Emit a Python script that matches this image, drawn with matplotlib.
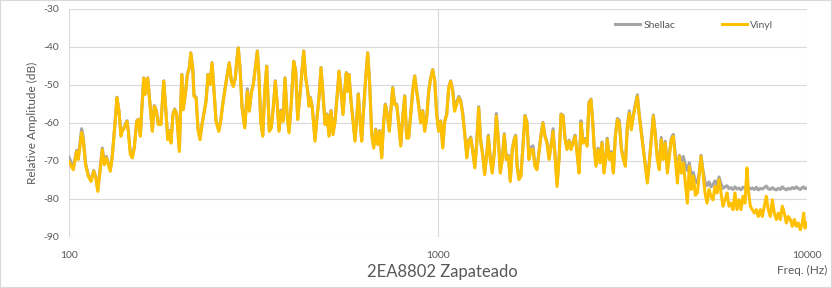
import matplotlib
matplotlib.use("Agg")
import matplotlib.pyplot as plt
from matplotlib.patches import Rectangle
from matplotlib.ticker import NullLocator

# Frequency response
freq_hz = [
    100.0, 102.7, 104.9, 106.0, 108.2, 109.3, 110.9, 112.8, 114.7, 116.7,
    118.2, 119.7, 121.4, 123.1, 124.7, 126.3, 127.9, 129.4, 131.0, 133.2,
    134.9, 136.6, 138.3, 139.4, 141.2, 143.6, 144.8, 146.6, 148.5, 150.3,
    152.6, 154.1, 156.1, 157.4, 159.4, 160.7, 162.0, 163.4, 166.1, 168.2,
    170.3, 172.4, 174.6, 177.5, 180.6, 182.8, 185.2, 187.4, 189.0, 191.3,
    193.4, 195.8, 199.1, 202.1, 204.1, 206.7, 209.3, 211.9, 213.8, 216.4,
    218.2, 221.0, 223.7, 226.5, 229.4, 232.2, 235.2, 238.1, 241.1, 244.1,
    247.2, 250.3, 254.6, 257.7, 261.0, 264.2, 267.5, 271.9, 275.3, 278.8,
    282.3, 284.8, 287.6, 290.7, 294.4, 299.4, 304.3, 308.1, 312.0, 315.9,
    319.8, 323.9, 326.7, 330.8, 335.0, 339.2, 343.4, 349.0, 353.4, 357.8,
    362.3, 366.1, 370.8, 375.5, 380.2, 385.0, 389.8, 394.6, 399.6, 406.4,
    411.5, 416.6, 422.0, 427.2, 432.6, 438.0, 443.5, 447.1, 450.8, 456.4,
    464.2, 470.0, 475.9, 481.9, 487.9, 494.1, 500.3, 506.6, 513.0, 519.4,
    526.0, 532.5, 539.2, 546.0, 552.8, 559.8, 564.3, 569.3, 573.9, 581.1,
    588.4, 595.8, 603.3, 608.2, 615.8, 621.2, 629.0, 636.9, 644.9, 653.0,
    661.2, 669.5, 677.9, 686.4, 695.0, 703.8, 712.6, 719.8, 728.8, 738.0,
    747.3, 753.8, 763.3, 772.8, 782.6, 792.4, 802.3, 812.4, 822.6, 832.9,
    843.4, 854.0, 864.7, 875.6, 886.6, 897.7, 909.0, 920.4, 931.9, 943.6,
    955.5, 967.5, 979.6, 991.9, 1004, 1017, 1030, 1043, 1056, 1069,
    1082, 1096, 1109, 1123, 1138, 1152, 1167, 1182, 1197, 1211,
    1227, 1242, 1258, 1273, 1289, 1305, 1321, 1338, 1357, 1369,
    1386, 1403, 1421, 1439, 1457, 1475, 1494, 1512, 1531, 1551,
    1570, 1590, 1610, 1624, 1638, 1657, 1678, 1699, 1721, 1742,
    1764, 1786, 1809, 1831, 1854, 1878, 1901, 1925, 1949, 1974,
    2000, 2025, 2050, 2076, 2102, 2128, 2155, 2182, 2210, 2237,
    2265, 2294, 2322, 2352, 2381, 2411, 2441, 2472, 2503, 2535,
    2566, 2598, 2631, 2647, 2681, 2714, 2748, 2783, 2818, 2853,
    2876, 2913, 2949, 2987, 3025, 3063, 3100, 3140, 3179, 3219,
    3260, 3300, 3341, 3384, 3427, 3470, 3512, 3556, 3601, 3646,
    3693, 3738, 3785, 3833, 3882, 3931, 3978, 4028, 4079, 4131,
    4184, 4235, 4288, 4343, 4398, 4454, 4508, 4564, 4622, 4681,
    4740, 4798, 4858, 4920, 4982, 5046, 5098, 5162, 5227, 5292,
    5359, 5426, 5494, 5563, 5633, 5704, 5775, 5848, 5921, 5996,
    6071, 6147, 6223, 6302, 6381, 6461, 6542, 6624, 6707, 6792,
    6877, 6933, 7020, 7108, 7198, 7288, 7380, 7473, 7566, 7661,
    7758, 7855, 7954, 8053, 8154, 8257, 8361, 8466, 8572, 8680,
    8789, 8899, 9011, 9124, 9238, 9355, 9472, 9591, 9711, 9796,
    9877, 10000,
]

vinyl_db = [
    -70.2, -72.3, -67.5, -69.6, -62.5, -64.4, -71.0, -74.0, -75.4, -72.7,
    -74.5, -78.0, -72.7, -67.0, -71.0, -69.2, -71.0, -72.7, -68.8, -60.4,
    -53.4, -56.9, -63.5, -62.2, -61.3, -59.6, -62.2, -68.3, -69.2, -66.6,
    -59.6, -59.1, -63.5, -56.9, -48.2, -52.5, -49.9, -48.2, -56.0, -62.2,
    -55.6, -56.9, -60.4, -60.4, -49.0, -56.0, -64.4, -62.2, -65.3, -57.8,
    -56.5, -57.8, -67.5, -47.3, -56.5, -52.5, -47.3, -45.5, -41.6, -45.5,
    -53.0, -53.4, -61.8, -64.4, -60.4, -57.4, -54.3, -47.3, -49.9, -44.2,
    -51.7, -59.6, -62.2, -59.6, -55.2, -51.7, -48.2, -44.2, -49.0, -50.4,
    -48.2, -43.8, -40.3, -45.5, -56.0, -61.3, -51.7, -56.9, -52.1, -49.9,
    -45.5, -41.1, -46.4, -59.6, -63.5, -51.7, -45.1, -62.2, -61.3, -56.0,
    -49.0, -54.3, -62.2, -56.9, -59.6, -48.2, -57.8, -62.6, -56.0, -43.8,
    -46.4, -59.1, -53.4, -47.3, -41.1, -48.2, -51.7, -55.6, -53.4, -56.0,
    -64.8, -58.7, -53.4, -45.5, -52.5, -60.4, -57.8, -63.5, -56.9, -63.1,
    -59.6, -53.4, -46.4, -51.7, -57.8, -50.8, -46.8, -51.7, -47.3, -54.3,
    -59.6, -64.8, -57.8, -52.5, -60.4, -64.8, -56.0, -48.2, -41.6, -49.9,
    -63.1, -66.6, -61.8, -65.7, -62.2, -69.2, -59.6, -55.2, -57.8, -62.2,
    -55.2, -50.8, -55.2, -55.2, -60.4, -66.1, -58.7, -53.0, -64.0, -64.0,
    -57.8, -51.7, -47.7, -51.7, -55.6, -60.0, -56.9, -62.2, -58.7, -51.7,
    -48.2, -46.0, -49.0, -57.8, -62.2, -59.6, -66.6, -59.6, -57.8, -50.8,
    -49.0, -51.7, -56.9, -55.2, -53.4, -54.3, -57.8, -63.1, -69.2, -64.8,
    -64.0, -67.5, -71.8, -65.7, -56.0, -64.8, -68.3, -73.6, -67.9, -63.5,
    -69.6, -73.2, -67.9, -58.2, -64.4, -73.2, -69.6, -63.1, -69.6, -68.8,
    -75.4, -67.0, -64.4, -63.5, -71.4, -74.9, -74.0, -66.1, -58.2, -60.0,
    -69.6, -67.0, -67.0, -71.4, -72.3, -67.9, -63.5, -60.0, -63.5, -65.3,
    -69.6, -66.1, -62.2, -68.8, -76.7, -69.6, -57.8, -58.2, -64.4, -67.0,
    -64.8, -67.0, -65.3, -63.5, -67.9, -73.2, -60.0, -65.3, -64.4, -66.1,
    -54.7, -53.9, -61.0, -66.1, -71.4, -67.0, -70.5, -65.3, -73.2, -68.8,
    -64.4, -69.6, -67.9, -73.2, -63.5, -59.1, -60.0, -67.0, -69.6, -71.4,
    -60.9, -57.4, -61.8, -58.2, -55.6, -53.0, -58.2, -62.6, -67.0, -71.4,
    -75.8, -70.5, -64.4, -58.2, -63.5, -69.6, -72.3, -64.4, -69.6, -65.3,
    -73.2, -68.8, -64.4, -63.5, -69.6, -75.8, -68.8, -73.2, -70.5, -75.8,
    -81.1, -71.4, -77.5, -74.0, -79.0, -78.4, -74.0, -68.8, -73.2, -78.4,
    -81.1, -77.5, -79.3, -80.2, -76.7, -78.4, -74.9, -78.4, -81.9, -80.2,
    -78.4, -81.9, -81.1, -82.8, -78.4, -82.8, -80.2, -82.8, -79.3, -81.1,
    -71.8, -77.5, -81.9, -82.8, -83.7, -82.8, -84.6, -82.8, -84.6, -81.9,
    -79.3, -82.8, -84.6, -80.2, -83.7, -85.4, -83.7, -85.4, -81.9, -83.7,
    -86.3, -84.6, -85.4, -87.2, -85.4, -87.2, -86.3, -88.1, -86.3, -83.7,
    -87.7, -86.3,
]

shellac_db = [
    -69.0, -71.8, -67.2, -69.0, -61.5, -63.8, -70.6, -73.6, -75.0, -72.5,
    -74.2, -77.6, -72.0, -66.6, -70.5, -68.8, -70.6, -72.3, -68.5, -60.2,
    -53.2, -56.8, -63.0, -62.0, -61.0, -59.4, -62.0, -67.6, -68.8, -66.4,
    -59.4, -59.0, -63.2, -56.8, -48.1, -52.2, -49.8, -48.1, -55.8, -61.8,
    -55.4, -56.6, -60.0, -60.1, -48.9, -55.8, -64.0, -62.0, -65.0, -57.6,
    -56.3, -57.5, -67.0, -47.2, -56.2, -52.3, -47.2, -45.4, -41.5, -45.3,
    -52.8, -53.2, -61.5, -64.0, -60.2, -57.2, -54.1, -47.2, -49.6, -44.1,
    -51.5, -59.3, -61.9, -59.4, -55.0, -51.5, -48.1, -44.1, -48.8, -50.2,
    -48.1, -43.7, -40.2, -45.3, -55.7, -61.0, -51.0, -56.6, -51.9, -49.7,
    -45.4, -41.0, -46.2, -59.3, -63.2, -51.5, -45.0, -61.8, -61.0, -55.8,
    -48.9, -54.0, -61.9, -56.6, -59.3, -48.1, -57.5, -62.3, -55.8, -43.7,
    -46.2, -58.8, -53.2, -47.2, -41.0, -48.1, -51.5, -55.4, -53.2, -55.8,
    -64.2, -58.5, -53.2, -45.4, -52.3, -60.1, -57.6, -63.2, -56.7, -62.5,
    -59.4, -53.2, -46.3, -51.5, -57.5, -50.6, -46.7, -51.5, -47.2, -54.1,
    -59.3, -64.4, -57.6, -52.3, -60.1, -64.5, -55.8, -48.1, -41.5, -49.7,
    -62.8, -66.2, -61.6, -65.3, -62.0, -68.8, -59.4, -55.0, -57.6, -61.9,
    -55.0, -50.6, -55.0, -55.0, -60.1, -65.7, -58.5, -52.8, -63.6, -63.7,
    -57.6, -51.5, -47.6, -51.5, -55.4, -59.7, -56.7, -61.9, -58.5, -51.5,
    -48.1, -45.9, -48.8, -57.5, -61.9, -59.4, -66.2, -59.4, -57.6, -50.7,
    -48.9, -51.2, -56.4, -54.6, -53.0, -54.0, -57.4, -62.8, -68.8, -64.5,
    -63.7, -67.2, -71.4, -65.4, -55.7, -64.4, -68.0, -73.2, -67.6, -63.2,
    -69.2, -72.8, -67.5, -57.5, -64.0, -72.7, -69.2, -62.8, -69.2, -68.5,
    -75.0, -66.7, -64.1, -63.2, -71.0, -74.5, -73.6, -65.8, -58.0, -59.7,
    -69.2, -66.4, -66.0, -71.0, -72.0, -67.5, -63.2, -59.8, -63.2, -65.0,
    -69.2, -65.8, -61.5, -68.4, -76.2, -69.3, -57.6, -58.0, -64.0, -66.6,
    -64.5, -66.6, -65.0, -63.2, -67.5, -72.8, -59.4, -65.0, -64.1, -65.8,
    -54.5, -53.7, -60.7, -65.8, -71.0, -66.6, -70.1, -65.0, -72.8, -68.4,
    -64.0, -69.2, -67.5, -72.8, -63.1, -58.8, -59.3, -66.6, -69.2, -71.0,
    -60.5, -56.8, -61.4, -57.8, -55.0, -52.6, -57.8, -62.2, -66.6, -71.0,
    -75.2, -70.1, -64.0, -57.9, -62.8, -69.0, -71.5, -63.8, -69.0, -64.8,
    -72.0, -68.4, -64.0, -63.0, -68.5, -72.0, -68.5, -70.0, -68.8, -71.0,
    -72.5, -70.5, -74.0, -73.0, -75.4, -75.8, -73.5, -68.5, -72.5, -75.5,
    -76.5, -75.5, -76.8, -76.2, -75.2, -76.5, -74.2, -76.0, -77.2, -76.8,
    -76.5, -77.3, -77.0, -77.5, -76.8, -77.4, -77.1, -77.6, -76.9, -77.2,
    -76.3, -76.8, -77.4, -77.1, -77.5, -76.9, -77.6, -77.2, -77.4, -77.0,
    -76.6, -77.3, -77.5, -77.0, -77.4, -77.6, -77.2, -77.5, -76.8, -77.3,
    -77.6, -77.2, -77.4, -77.0, -77.3, -76.8, -77.2, -77.5, -77.0, -76.8,
    -77.3, -77.1,
]

x_ticks = [100, 1000, 10000]
y_ticks = [-90, -80, -70, -60, -50, -40, -30]
chart_title = "2EA8802 Zapateado"

plt.rcParams["font.family"] = ["Lato", "DejaVu Sans"]
plt.rcParams["axes.unicode_minus"] = False
text_color = "#595959"
grid_color = "#D9D9D9"

fig = plt.figure(figsize=(8.32, 2.88), dpi=100)
ax = fig.add_axes([69 / 832, 1 - 237 / 288, 738 / 832, 228 / 288])

ax.plot(freq_hz, shellac_db, color="#A5A5A5", lw=2.2, label="Shellac")
ax.plot(freq_hz, vinyl_db, color="#FFC000", lw=2.2, label="Vinyl")

ax.set_xscale("log")
ax.set_xlim(100, 10000)
ax.set_ylim(-90, -30)
ax.set_xticks(x_ticks)
ax.set_xticklabels([str(t) for t in x_ticks])
ax.xaxis.set_minor_locator(NullLocator())
ax.set_yticks(y_ticks)
ax.set_yticklabels([str(t) for t in y_ticks])
ax.tick_params(axis="both", length=0, labelsize=7.5, colors=text_color)
ax.tick_params(axis="x", pad=10)
ax.tick_params(axis="y", pad=7)
ax.grid(True, color=grid_color, lw=0.8)
ax.set_axisbelow(True)
for s in ax.spines.values():
    s.set_visible(False)

ax.legend(loc="center left", bbox_to_anchor=(610 / 832, 1 - 25 / 288),
          bbox_transform=fig.transFigure, ncol=2, frameon=False,
          fontsize=7.5, handlelength=2.4, handletextpad=0.3,
          columnspacing=4.5, borderpad=0, labelcolor=text_color)

fig.text(442 / 832, 1 - 272 / 288, chart_title, ha="center", va="center",
         fontsize=12, color=text_color)
fig.text(827 / 832, 1 - 270 / 288, "Freq. (Hz)", ha="right", va="center",
         fontsize=8.5, color=text_color)
fig.text(32 / 832, 1 - 123 / 288, "Relative Amplitude (dB)", rotation=90,
         ha="center", va="center", fontsize=8.5, color=text_color)

# light chart-area border
fig.add_artist(Rectangle((0, 0), 1, 1, transform=fig.transFigure,
                         fill=False, ec=grid_color, lw=1.5))

fig.savefig("out.png", dpi=100)
